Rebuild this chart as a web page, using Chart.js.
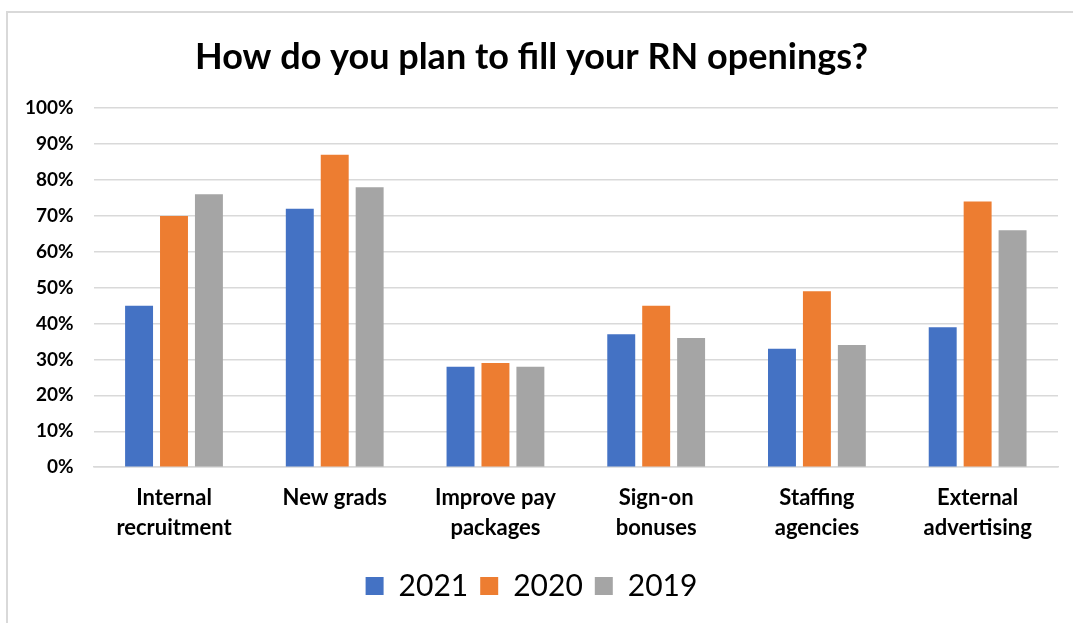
<!DOCTYPE html>
<html>
<head>
<meta charset="utf-8">
<script src="https://cdn.jsdelivr.net/npm/chart.js@4"></script>
<style>
  html, body { margin: 0; padding: 0; background: #fff; }
  #frame {
    position: absolute; left: 6px; top: 11px; width: 1067px; height: 612px;
    border-left: 2px solid #d9d9d9; border-top: 2px solid #d9d9d9; box-sizing: border-box;
  }
  #wrap { position: absolute; left: 0; top: 0; width: 1073px; height: 623px; }
</style>
</head>
<body>
<div id="frame"></div>
<div id="wrap"><canvas id="chart"></canvas></div>
<script>
const categories = [
  ['Internal', 'recruitment'],
  ['New grads'],
  ['Improve pay', 'packages'],
  ['Sign-on', 'bonuses'],
  ['Staffing', 'agencies'],
  ['External', 'advertising']
];
const values2021 = [45, 72, 28, 37, 33, 39];
const values2020 = [70, 87, 29, 45, 49, 74];
const values2019 = [76, 78, 28, 36, 34, 66];

const fontFamily = 'Lato, "Open Sans", sans-serif';

new Chart(document.getElementById('chart'), {
  type: 'bar',
  data: {
    labels: categories,
    datasets: [
      { label: '2021', data: values2021, backgroundColor: '#4472C4' },
      { label: '2020', data: values2020, backgroundColor: '#ED7D31' },
      { label: '2019', data: values2019, backgroundColor: '#A5A5A5' }
    ]
  },
  options: {
    responsive: true,
    maintainAspectRatio: false,
    animation: false,
    categoryPercentage: 0.652,
    barPercentage: 0.8,
    layout: { padding: { left: 5, right: 15, top: 36, bottom: 12 } },
    plugins: {
      title: {
        display: true,
        text: 'How do you plan to fill your RN openings?',
        color: '#000',
        font: { family: fontFamily, size: 36, weight: 'bold', lineHeight: 1.2 },
        padding: { top: 0, bottom: 29 }
      },
      legend: {
        position: 'bottom',
        labels: {
          color: '#000',
          font: { family: fontFamily, size: 30 },
          boxWidth: 18,
          boxHeight: 18,
          padding: 12
        }
      },
      tooltip: { enabled: false }
    },
    scales: {
      y: {
        min: 0,
        max: 1,
        ticks: {
          stepSize: 0.1,
          color: '#000',
          padding: 20,
          font: { family: fontFamily, size: 19, weight: 'bold' },
          callback: (v) => Math.round(v * 100) + '%'
        },
        grid: { color: '#d9d9d9', lineWidth: 1.5, drawTicks: false },
        border: { display: false }
      },
      x: {
        ticks: {
          color: '#000',
          padding: 16,
          font: { family: fontFamily, size: 22, weight: 'bold', lineHeight: 1.36 },
          maxRotation: 0
        },
        grid: { display: false, drawTicks: false },
        border: { color: '#d9d9d9', width: 1.5 }
      }
    }
  },
  plugins: [{
    id: 'pct',
    beforeInit(chart) {
      chart.data.datasets.forEach(ds => { ds.data = ds.data.map(v => v / 100); });
    }
  }]
});
</script>
</body>
</html>
